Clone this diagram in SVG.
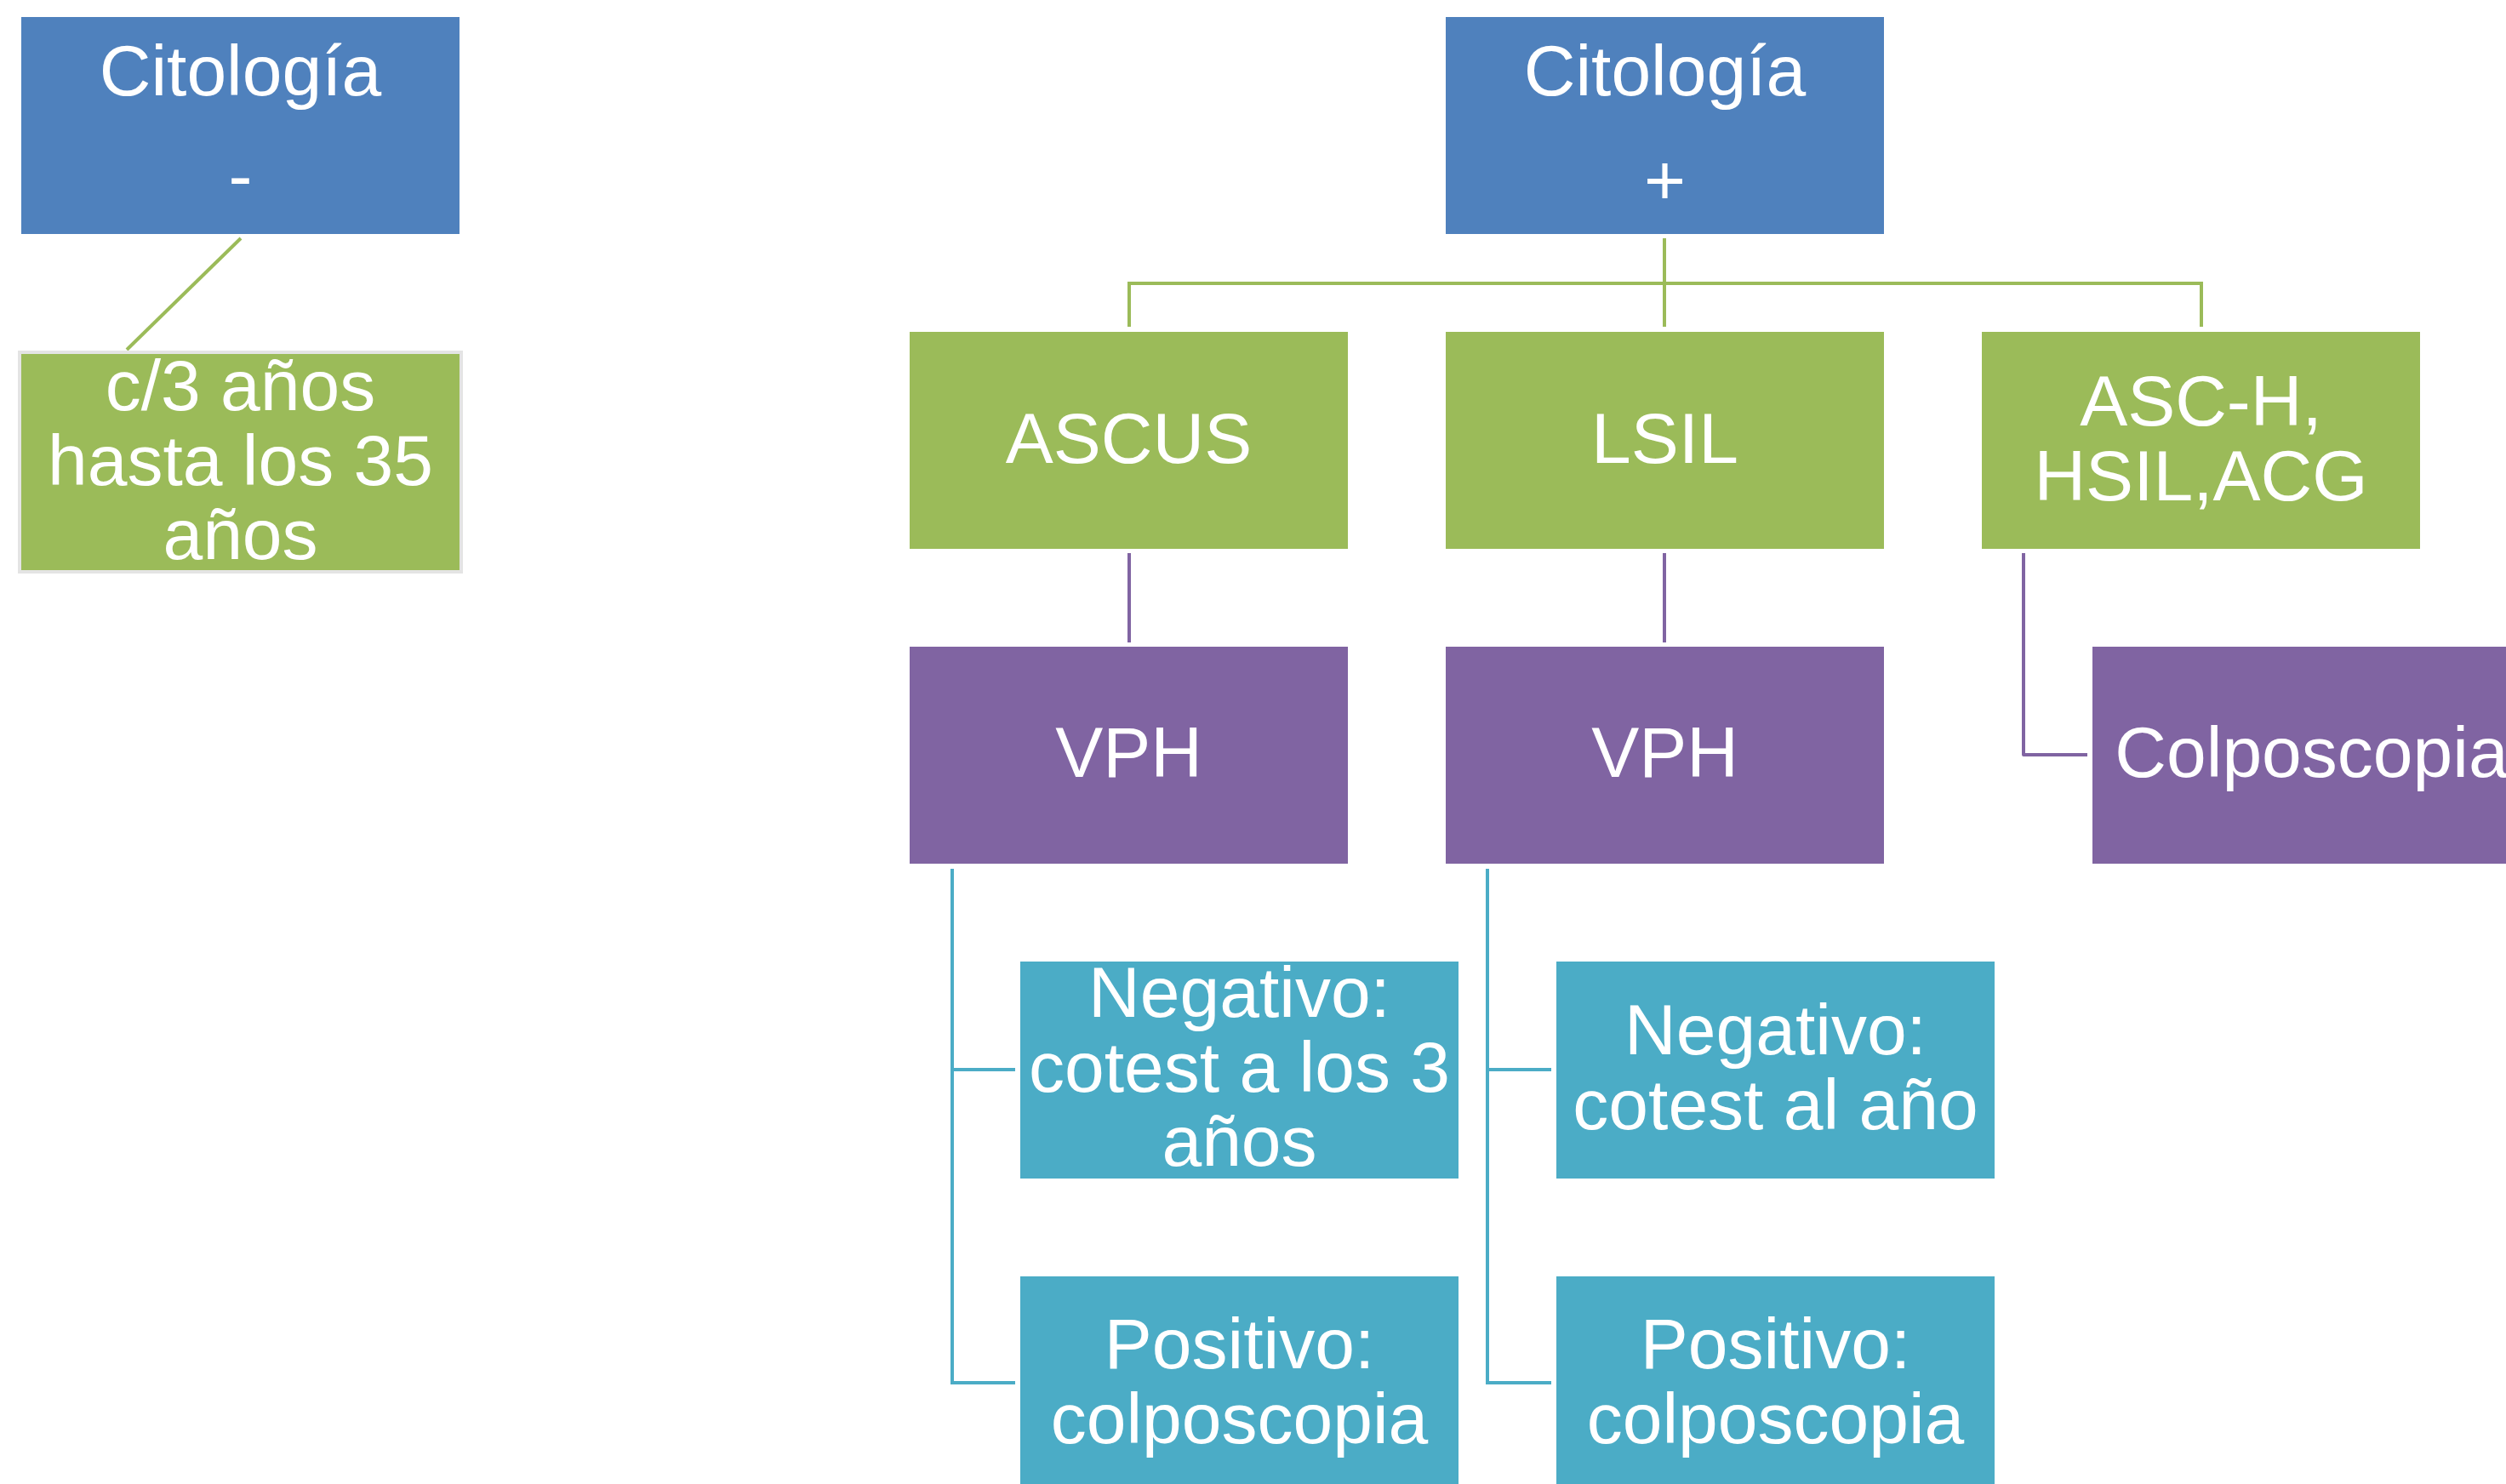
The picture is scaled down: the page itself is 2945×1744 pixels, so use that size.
<svg xmlns="http://www.w3.org/2000/svg" width="2945" height="1744" viewBox="0 0 2945 1744">
<style>
text{font-family:"Liberation Sans",Arial,sans-serif;font-size:84px;fill:#fff;text-anchor:middle}
.blue{fill:#4F81BD}
.green{fill:#9BBB59}
.purple{fill:#8064A2}
.teal{fill:#4BACC6}
.cg{fill:none;stroke:#9BBB59;stroke-width:4}
.cp{fill:none;stroke:#8064A2;stroke-width:4}
.ct{fill:none;stroke:#4BACC6;stroke-width:4}
</style>
<rect width="2945" height="1744" fill="#fff"/>
<g id="connectors">
<line class="cg" x1="283" y1="280" x2="149" y2="411"/>
<path class="cg" d="M1956 280V384M1327 384V333H2587V384"/>
<path class="cp" d="M1327 650V755M1956 650V755"/>
<path class="cp" stroke-linejoin="round" d="M2378 650V887H2453"/>
<path class="ct" d="M1119 1021V1625H1193M1119 1257H1193"/>
<path class="ct" d="M1748 1021V1625H1823M1748 1257H1823"/>
</g>
<g id="cito-neg">
<rect class="blue" x="25" y="20" width="515" height="255"/>
<text x="282.5" y="112">Citología</text>
<text x="282.5" y="235">-</text>
</g>
<g id="c3anos">
<rect class="green" x="23" y="414" width="519" height="258" stroke="#E4E4E4" stroke-width="4"/>
<text x="282.5" y="482">c/3 años</text>
<text x="282.5" y="570">hasta los 35</text>
<text x="282.5" y="657">años</text>
</g>
<g id="cito-pos">
<rect class="blue" x="1699" y="20" width="515" height="255"/>
<text x="1956.5" y="112">Citología</text>
<text x="1956.5" y="240">+</text>
</g>
<g id="ascus">
<rect class="green" x="1069" y="390" width="515" height="255"/>
<text x="1326.5" y="544">ASCUS</text>
</g>
<g id="lsil">
<rect class="green" x="1699" y="390" width="515" height="255"/>
<text x="1956.5" y="544">LSIL</text>
</g>
<g id="asch">
<rect class="green" x="2329" y="390" width="515" height="255"/>
<text x="2586.5" y="500">ASC-H,</text>
<text x="2586.5" y="588">HSIL,ACG</text>
</g>
<g id="vph1">
<rect class="purple" x="1069" y="760" width="515" height="255"/>
<text x="1326.5" y="913">VPH</text>
</g>
<g id="vph2">
<rect class="purple" x="1699" y="760" width="515" height="255"/>
<text x="1956.5" y="913">VPH</text>
</g>
<g id="colpo">
<rect class="purple" x="2459" y="760" width="515" height="255"/>
<text x="2716.5" y="913">Colposcopia</text>
</g>
<g id="neg1">
<rect class="teal" x="1199" y="1130" width="515" height="255"/>
<text x="1456.5" y="1195">Negativo:</text>
<text x="1456.5" y="1283">cotest a los 3</text>
<text x="1456.5" y="1370">años</text>
</g>
<g id="neg2">
<rect class="teal" x="1829" y="1130" width="515" height="255"/>
<text x="2086.5" y="1239">Negativo:</text>
<text x="2086.5" y="1327">cotest al año</text>
</g>
<g id="pos1">
<rect class="teal" x="1199" y="1500" width="515" height="255"/>
<text x="1456.5" y="1608">Positivo:</text>
<text x="1456.5" y="1696">colposcopia</text>
</g>
<g id="pos2">
<rect class="teal" x="1829" y="1500" width="515" height="255"/>
<text x="2086.5" y="1608">Positivo:</text>
<text x="2086.5" y="1696">colposcopia</text>
</g>
</svg>
